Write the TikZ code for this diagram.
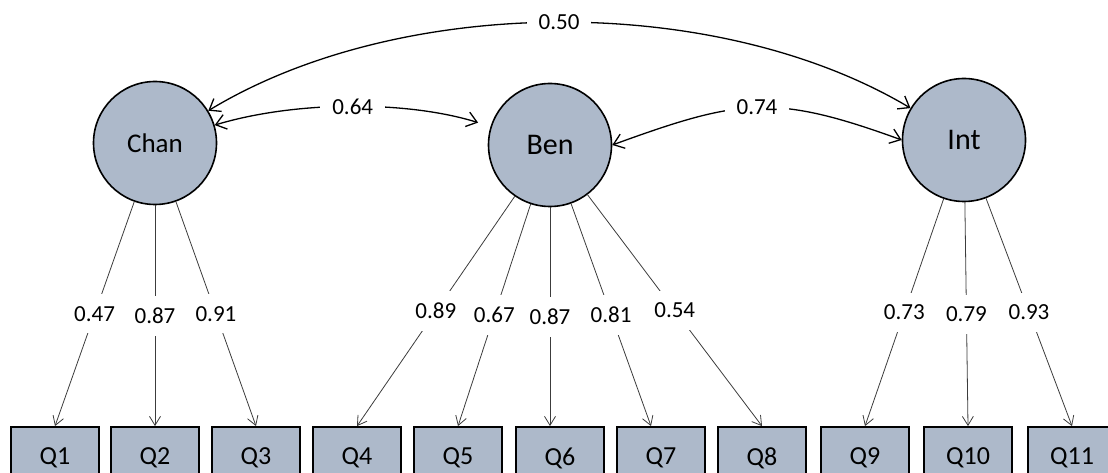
\documentclass[tikz,border=0pt]{standalone}
\usepackage{fontspec}
\setmainfont{Carlito}
\usetikzlibrary{arrows.meta}
\definecolor{factorfill}{RGB}{173,185,202}
\definecolor{pathgray}{RGB}{60,60,60}

\begin{document}
\begin{tikzpicture}[x=1pt, y=-1pt,
    latent/.style={circle, draw=black, line width=1.6pt, fill=factorfill,
      minimum size=123pt, inner sep=0pt},
    item/.style={rectangle, draw=black, line width=1.8pt, fill=factorfill,
      minimum width=88pt, minimum height=62pt, font=\fontsize{26}{30}\selectfont},
    load/.style={-{Straight Barb[length=9pt,width=11pt]}, pathgray, line width=0.8pt},
    corr/.style={{Straight Barb[length=10pt,width=15pt]}-{Straight Barb[length=10pt,width=15pt]},
      line width=1.3pt},
    coef/.style={fill=white, inner sep=12pt, text=black, font=\fontsize{23}{27}\selectfont}]
    %% page frame
    \useasboundingbox (0,0) rectangle (1108,473);
    \clip (0,0) rectangle (1108,473);

    %% latent factors
    \node[latent, font=\fontsize{27}{31}\selectfont] (chan) at (155,143) {Chan};
    \node[latent, font=\fontsize{30}{35}\selectfont] (ben) at (550,145) {Ben};
    \node[latent, font=\fontsize{30}{35}\selectfont] (int) at (964,140) {Int};

    %% observed items (bottom row, cut by the page edge)
    \foreach \i/\x in {1/55,2/155,3/256,4/357,5/458,6/560,7/661,8/762,9/865,10/968,11/1072}
      \node[item] (q\i) at (\x,458) {Q\i};

    %% loadings
    \draw[load] (chan) -- node[coef] {0.47} (q1.north);
    \draw[load] (chan) -- node[coef] {0.87} (q2.north);
    \draw[load] (chan) -- node[coef] {0.91} (q3.north);
    \draw[load] (ben) -- node[coef] {0.89} (q4.north);
    \draw[load] (ben) -- node[coef] {0.67} (q5.north);
    \draw[load] (ben) -- node[coef] {0.87} (q6.north -| ben);
    \draw[load] (ben) -- node[coef] {0.81} ([xshift=-10pt]q7.north);
    \draw[load] (ben) -- node[coef] {0.54} (q8.north);
    \draw[load] (int) -- node[coef] {0.73} (q9.north);
    \draw[load] (int) -- node[coef] {0.79} (q10.north);
    \draw[load] (int) -- node[coef] {0.93} (q11.north);

    %% factor correlations
    \draw[corr] (chan) to[bend left=31, looseness=0.82] node[coef] {0.50} (int);
    \draw[corr, shorten >=13pt] (chan) to[bend left=17, looseness=0.8] node[coef] {0.64} (ben);
    \draw[corr] (ben.east) to[out=20, in=160, looseness=1.2] node[coef] {0.74} (int.west);
\end{tikzpicture}
\end{document}
